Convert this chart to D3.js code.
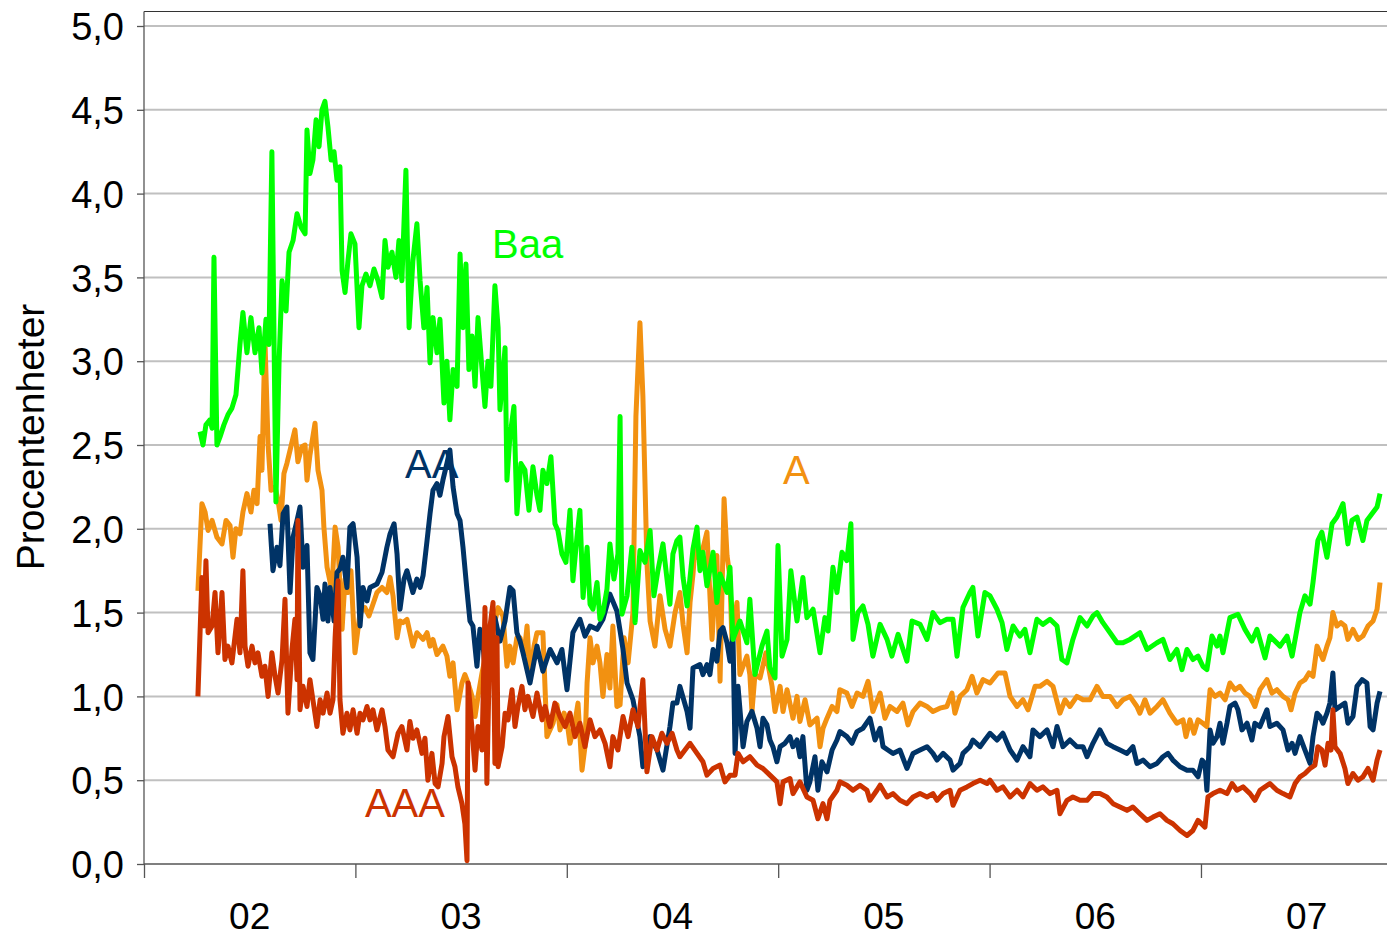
<html>
<head>
<title>Kreditspreadar</title>
<script src="https://cdn.jsdelivr.net/npm/d3@7"></script>
<style>
  body { margin: 0; background: #ffffff; }
  text { font-family: "Liberation Sans", Arial, sans-serif; }
</style>
</head>
<body>
<div id="chart"></div>

<script type="text/javascript">

// data: time as decimal year, value in procentenheter
var baa = [
  [2002.265,2.58],[2002.279,2.50],[2002.293,2.62],[2002.312,2.65],[2002.322,2.60],[2002.331,3.62],[2002.345,2.50],[2002.360,2.55],
  [2002.378,2.62],[2002.397,2.68],[2002.416,2.72],[2002.435,2.80],[2002.454,3.10],[2002.468,3.29],[2002.487,3.05],[2002.506,3.26],
  [2002.525,3.05],[2002.544,3.20],[2002.558,2.93],[2002.577,3.25],[2002.591,3.10],[2002.605,4.25],[2002.624,2.16],[2002.639,3.00],
  [2002.653,3.48],[2002.672,3.30],[2002.686,3.65],[2002.705,3.72],[2002.724,3.88],[2002.743,3.80],[2002.762,3.76],[2002.771,4.38],
  [2002.785,4.12],[2002.799,4.20],[2002.814,4.44],[2002.828,4.28],[2002.842,4.50],[2002.856,4.55],[2002.870,4.40],[2002.885,4.20],
  [2002.899,4.25],[2002.913,4.08],[2002.927,4.16],[2002.937,3.54],[2002.951,3.41],[2002.965,3.60],[2002.979,3.76],[2002.998,3.70],
  [2003.017,3.20],[2003.031,3.45],[2003.050,3.52],[2003.069,3.45],[2003.088,3.55],[2003.107,3.48],[2003.126,3.38],[2003.140,3.72],
  [2003.154,3.56],[2003.173,3.65],[2003.192,3.50],[2003.206,3.72],[2003.220,3.48],[2003.239,4.14],[2003.254,3.20],[2003.272,3.60],
  [2003.291,3.82],[2003.306,3.48],[2003.324,3.20],[2003.339,3.44],[2003.353,2.99],[2003.367,3.26],[2003.386,3.05],[2003.400,3.25],
  [2003.419,2.75],[2003.433,3.00],[2003.447,2.65],[2003.462,2.95],[2003.481,2.85],[2003.495,3.64],[2003.509,3.20],[2003.523,3.58],
  [2003.537,2.95],[2003.552,3.15],[2003.566,2.85],[2003.580,3.26],[2003.599,2.95],[2003.613,2.73],[2003.627,3.00],[2003.641,2.85],
  [2003.660,3.45],[2003.675,3.20],[2003.684,2.71],[2003.708,3.08],[2003.717,2.29],[2003.731,2.55],[2003.750,2.73],[2003.764,2.09],
  [2003.783,2.39],[2003.802,2.35],[2003.821,2.11],[2003.840,2.37],[2003.859,2.20],[2003.873,2.11],[2003.887,2.35],[2003.906,2.27],
  [2003.925,2.43],[2003.944,2.03],[2003.958,1.99],[2003.977,1.85],[2003.996,1.80],[2004.015,2.11],[2004.029,1.69],[2004.048,1.95],
  [2004.062,2.11],[2004.077,1.59],[2004.096,1.89],[2004.110,1.55],[2004.124,1.52],[2004.143,1.68],[2004.157,1.46],[2004.171,1.50],
  [2004.190,1.64],[2004.204,1.91],[2004.223,1.70],[2004.242,1.85],[2004.252,2.67],[2004.261,1.49],[2004.285,1.60],[2004.308,1.89],
  [2004.323,1.44],[2004.346,1.87],[2004.370,1.80],[2004.394,1.99],[2004.412,1.60],[2004.431,1.75],[2004.455,1.91],[2004.474,1.70],
  [2004.488,1.55],[2004.502,1.85],[2004.521,1.93],[2004.535,1.95],[2004.550,1.71],[2004.569,1.54],[2004.597,1.88],[2004.616,2.01],
  [2004.630,1.75],[2004.644,1.86],[2004.663,1.66],[2004.692,1.86],[2004.710,1.56],[2004.725,1.73],[2004.758,1.62],[2004.772,1.77],
  [2004.786,1.34],[2004.819,1.45],[2004.852,1.32],[2004.866,1.58],[2004.890,1.13],[2004.923,1.30],[2004.947,1.39],[2004.961,1.17],
  [2004.985,1.11],[2004.999,1.90],[2005.018,1.24],[2005.042,1.34],[2005.060,1.75],[2005.089,1.45],[2005.117,1.71],[2005.136,1.47],
  [2005.165,1.52],[2005.198,1.26],[2005.221,1.47],[2005.236,1.39],[2005.259,1.77],[2005.278,1.62],[2005.302,1.86],[2005.325,1.81],
  [2005.344,2.03],[2005.354,1.34],[2005.377,1.50],[2005.401,1.54],[2005.425,1.43],[2005.448,1.24],[2005.482,1.43],[2005.515,1.34],
  [2005.538,1.24],[2005.567,1.37],[2005.609,1.21],[2005.633,1.45],[2005.671,1.43],[2005.704,1.34],[2005.732,1.50],[2005.765,1.44],
  [2005.798,1.46],[2005.827,1.46],[2005.846,1.24],[2005.874,1.53],[2005.907,1.62],[2005.921,1.65],[2005.945,1.36],[2005.978,1.62],
  [2006.002,1.60],[2006.035,1.52],[2006.059,1.44],[2006.082,1.28],[2006.111,1.42],[2006.144,1.36],[2006.167,1.40],[2006.191,1.26],
  [2006.224,1.46],[2006.252,1.43],[2006.286,1.46],[2006.319,1.42],[2006.342,1.22],[2006.366,1.20],[2006.394,1.34],[2006.428,1.47],
  [2006.461,1.42],[2006.489,1.48],[2006.508,1.50],[2006.536,1.44],[2006.570,1.38],[2006.603,1.32],[2006.631,1.32],[2006.664,1.34],
  [2006.711,1.38],[2006.745,1.28],[2006.792,1.32],[2006.820,1.34],[2006.853,1.22],[2006.886,1.28],[2006.910,1.16],[2006.934,1.28],
  [2006.962,1.22],[2006.986,1.24],[2007.009,1.18],[2007.028,1.16],[2007.052,1.36],[2007.076,1.30],[2007.090,1.36],[2007.104,1.26],
  [2007.137,1.47],[2007.175,1.49],[2007.208,1.40],[2007.241,1.33],[2007.265,1.40],[2007.303,1.23],[2007.326,1.36],[2007.374,1.30],
  [2007.407,1.36],[2007.431,1.24],[2007.454,1.40],[2007.468,1.50],[2007.492,1.60],[2007.516,1.55],[2007.530,1.68],[2007.553,1.93],
  [2007.572,1.98],[2007.596,1.83],[2007.620,2.03],[2007.643,2.07],[2007.672,2.15],[2007.695,1.91],[2007.714,2.05],[2007.738,2.07],
  [2007.766,1.93],[2007.785,2.05],[2007.809,2.09],[2007.833,2.13],[2007.847,2.21]
];

var a = [
  [2002.255,1.63],[2002.274,2.15],[2002.289,2.10],[2002.303,1.99],[2002.322,2.05],[2002.345,1.95],[2002.369,1.91],[2002.388,2.05],
  [2002.407,2.02],[2002.421,1.83],[2002.435,2.00],[2002.454,1.97],[2002.468,2.10],[2002.487,2.21],[2002.506,2.10],[2002.520,2.23],
  [2002.535,2.15],[2002.549,2.55],[2002.558,2.35],[2002.572,3.13],[2002.587,2.50],[2002.601,2.23],[2002.620,2.25],[2002.634,2.17],
  [2002.648,2.05],[2002.662,2.33],[2002.676,2.39],[2002.695,2.49],[2002.714,2.59],[2002.728,2.40],[2002.747,2.49],[2002.762,2.50],
  [2002.771,2.29],[2002.785,2.44],[2002.809,2.63],[2002.823,2.35],[2002.842,2.23],[2002.851,2.01],[2002.866,1.77],[2002.889,1.63],
  [2002.904,2.01],[2002.918,1.89],[2002.937,1.40],[2002.951,1.70],[2002.965,1.62],[2002.979,1.75],[2002.998,1.26],[2003.022,1.50],
  [2003.045,1.53],[2003.064,1.48],[2003.083,1.55],[2003.102,1.62],[2003.126,1.65],[2003.149,1.62],[2003.164,1.71],[2003.178,1.60],
  [2003.197,1.35],[2003.211,1.45],[2003.225,1.44],[2003.244,1.46],[2003.272,1.30],[2003.291,1.38],[2003.320,1.34],[2003.339,1.38],
  [2003.353,1.30],[2003.367,1.34],[2003.386,1.25],[2003.414,1.30],[2003.433,1.24],[2003.447,1.12],[2003.462,1.20],[2003.481,0.92],
  [2003.504,1.08],[2003.518,1.13],[2003.533,1.08],[2003.552,1.00],[2003.566,0.88],[2003.580,1.00],[2003.599,1.14],[2003.622,1.28],
  [2003.637,1.35],[2003.651,1.40],[2003.675,1.53],[2003.698,1.48],[2003.717,1.18],[2003.731,1.30],[2003.746,1.20],[2003.764,1.35],
  [2003.779,1.35],[2003.798,1.25],[2003.812,1.42],[2003.826,1.12],[2003.845,1.30],[2003.859,1.38],[2003.887,1.38],[2003.906,0.76],
  [2003.935,0.84],[2003.954,0.95],[2003.968,0.80],[2003.987,0.90],[2004.001,0.85],[2004.015,0.72],[2004.039,0.85],[2004.053,0.96],
  [2004.072,0.56],[2004.086,0.70],[2004.096,1.08],[2004.110,1.35],[2004.124,1.20],[2004.143,1.30],[2004.157,1.20],[2004.171,1.00],
  [2004.190,1.25],[2004.204,1.05],[2004.218,1.42],[2004.237,0.94],[2004.252,0.95],[2004.271,1.35],[2004.290,1.20],[2004.313,1.50],
  [2004.327,2.67],[2004.346,3.23],[2004.360,2.79],[2004.379,1.80],[2004.394,1.45],[2004.417,1.30],[2004.441,1.60],[2004.465,1.40],
  [2004.488,1.30],[2004.512,1.50],[2004.535,1.62],[2004.550,1.43],[2004.569,1.26],[2004.583,1.56],[2004.597,1.73],[2004.606,1.88],
  [2004.630,1.81],[2004.663,1.98],[2004.687,1.34],[2004.710,1.84],[2004.725,1.09],[2004.744,2.18],[2004.758,1.84],[2004.772,1.71],
  [2004.781,1.34],[2004.805,1.56],[2004.819,1.13],[2004.852,1.24],[2004.866,1.13],[2004.876,0.91],[2004.890,1.13],[2004.914,1.11],
  [2004.942,1.26],[2004.971,1.06],[2004.985,0.91],[2005.009,1.06],[2005.023,0.91],[2005.042,1.04],[2005.070,0.87],[2005.089,1.00],
  [2005.103,0.85],[2005.127,0.98],[2005.150,0.83],[2005.184,0.87],[2005.198,0.70],[2005.212,0.81],[2005.231,0.87],[2005.255,0.94],
  [2005.278,0.91],[2005.292,1.04],[2005.325,1.02],[2005.349,0.94],[2005.373,1.02],[2005.401,1.00],[2005.425,1.09],[2005.448,0.91],
  [2005.482,1.02],[2005.505,0.87],[2005.529,0.94],[2005.562,0.91],[2005.590,0.96],[2005.614,0.83],[2005.638,0.91],[2005.671,0.96],
  [2005.704,0.94],[2005.732,0.91],[2005.765,0.93],[2005.798,0.94],[2005.822,1.02],[2005.836,0.90],[2005.860,1.00],[2005.893,1.04],
  [2005.917,1.12],[2005.940,1.02],[2005.969,1.10],[2006.002,1.08],[2006.040,1.14],[2006.073,1.14],[2006.097,1.00],[2006.130,0.94],
  [2006.158,0.98],[2006.182,0.92],[2006.215,1.06],[2006.238,1.06],[2006.272,1.09],[2006.300,1.06],[2006.333,0.90],[2006.357,0.98],
  [2006.380,0.94],[2006.413,1.00],[2006.442,0.98],[2006.475,0.98],[2006.508,1.06],[2006.536,1.00],[2006.570,1.00],[2006.603,0.94],
  [2006.631,0.98],[2006.664,1.00],[2006.697,0.94],[2006.711,0.90],[2006.735,0.98],[2006.759,0.90],[2006.792,0.94],[2006.820,0.98],
  [2006.853,0.90],[2006.886,0.84],[2006.915,0.86],[2006.929,0.76],[2006.948,0.86],[2006.967,0.78],[2006.986,0.86],[2007.009,0.84],
  [2007.028,0.82],[2007.043,1.04],[2007.066,1.00],[2007.090,1.02],[2007.114,0.98],[2007.137,1.08],[2007.161,1.04],[2007.184,1.06],
  [2007.208,1.02],[2007.232,1.00],[2007.255,0.94],[2007.279,1.04],[2007.312,1.10],[2007.336,1.02],[2007.359,1.04],[2007.388,1.00],
  [2007.412,0.98],[2007.426,0.92],[2007.445,1.02],[2007.468,1.08],[2007.492,1.10],[2007.511,1.14],[2007.530,1.12],[2007.549,1.30],
  [2007.563,1.26],[2007.577,1.22],[2007.596,1.30],[2007.610,1.35],[2007.624,1.50],[2007.643,1.42],[2007.662,1.44],[2007.681,1.42],
  [2007.695,1.34],[2007.719,1.40],[2007.743,1.34],[2007.766,1.36],[2007.790,1.42],[2007.814,1.45],[2007.833,1.52],[2007.847,1.68]
];

var aa = [
  [2002.596,2.03],[2002.610,1.75],[2002.629,1.89],[2002.643,1.78],[2002.658,2.09],[2002.676,2.13],[2002.691,1.62],[2002.705,1.95],
  [2002.724,2.05],[2002.738,2.13],[2002.752,1.77],[2002.771,1.90],[2002.785,1.26],[2002.799,1.22],[2002.818,1.65],[2002.833,1.60],
  [2002.847,1.46],[2002.856,1.67],[2002.870,1.45],[2002.880,1.65],[2002.899,1.45],[2002.913,1.74],[2002.927,1.76],[2002.941,1.83],
  [2002.960,1.65],[2002.974,2.01],[2002.989,2.03],[2003.008,1.83],[2003.022,1.42],[2003.036,1.65],[2003.055,1.57],[2003.069,1.65],
  [2003.102,1.67],[2003.126,1.74],[2003.149,1.89],[2003.164,1.97],[2003.183,2.03],[2003.197,1.85],[2003.211,1.52],[2003.230,1.70],
  [2003.244,1.75],[2003.272,1.62],[2003.291,1.70],[2003.306,1.65],[2003.320,1.72],[2003.339,1.93],[2003.353,2.09],[2003.367,2.23],
  [2003.386,2.27],[2003.400,2.20],[2003.414,2.29],[2003.433,2.39],[2003.447,2.47],[2003.462,2.25],[2003.481,2.09],[2003.495,2.05],
  [2003.509,1.89],[2003.528,1.63],[2003.542,1.45],[2003.556,1.42],[2003.575,1.18],[2003.589,1.40],[2003.604,1.30],[2003.622,1.04],
  [2003.637,1.35],[2003.660,1.47],[2003.684,1.33],[2003.708,1.45],[2003.731,1.65],[2003.746,1.63],[2003.764,1.38],[2003.779,1.33],
  [2003.793,1.26],[2003.826,1.08],[2003.859,1.30],[2003.887,1.15],[2003.921,1.28],[2003.954,1.20],[2003.977,1.28],[2004.001,1.04],
  [2004.029,1.38],[2004.062,1.46],[2004.086,1.36],[2004.110,1.42],[2004.143,1.40],[2004.171,1.46],[2004.204,1.61],[2004.237,1.51],
  [2004.266,1.28],[2004.285,1.08],[2004.313,0.98],[2004.346,0.76],[2004.360,0.58],[2004.394,0.76],[2004.427,0.68],[2004.455,0.56],
  [2004.488,0.82],[2004.502,0.96],[2004.521,0.96],[2004.535,1.06],[2004.569,0.91],[2004.583,0.81],[2004.597,1.17],[2004.630,1.19],
  [2004.644,1.13],[2004.663,1.19],[2004.677,1.13],[2004.692,1.28],[2004.710,1.21],[2004.725,1.39],[2004.739,1.41],[2004.758,1.32],
  [2004.772,1.21],[2004.786,1.37],[2004.796,0.66],[2004.810,1.06],[2004.834,0.70],[2004.852,0.85],[2004.876,0.91],[2004.900,0.81],
  [2004.914,0.70],[2004.928,0.87],[2004.947,0.83],[2004.961,0.74],[2004.975,0.70],[2004.994,0.61],[2005.009,0.70],[2005.032,0.72],
  [2005.056,0.76],[2005.070,0.70],[2005.089,0.74],[2005.103,0.64],[2005.117,0.76],[2005.136,0.44],[2005.150,0.49],[2005.174,0.64],
  [2005.188,0.44],[2005.207,0.61],[2005.231,0.55],[2005.255,0.68],[2005.278,0.74],[2005.292,0.79],[2005.325,0.76],[2005.349,0.72],
  [2005.373,0.79],[2005.401,0.81],[2005.434,0.87],[2005.458,0.74],[2005.482,0.81],[2005.496,0.70],[2005.519,0.68],[2005.543,0.66],
  [2005.576,0.68],[2005.609,0.57],[2005.638,0.66],[2005.671,0.68],[2005.704,0.70],[2005.732,0.66],[2005.751,0.62],[2005.780,0.66],
  [2005.813,0.62],[2005.827,0.56],[2005.860,0.60],[2005.874,0.66],[2005.907,0.70],[2005.921,0.74],[2005.955,0.70],[2005.978,0.74],
  [2006.002,0.78],[2006.035,0.74],[2006.063,0.78],[2006.097,0.68],[2006.130,0.62],[2006.158,0.70],[2006.191,0.64],[2006.205,0.80],
  [2006.238,0.76],[2006.272,0.80],[2006.300,0.70],[2006.319,0.82],[2006.347,0.70],[2006.380,0.74],[2006.413,0.70],[2006.442,0.70],
  [2006.461,0.64],[2006.489,0.72],[2006.522,0.80],[2006.555,0.72],[2006.584,0.70],[2006.617,0.68],[2006.650,0.66],[2006.678,0.70],
  [2006.697,0.60],[2006.726,0.62],[2006.759,0.58],[2006.792,0.60],[2006.820,0.64],[2006.844,0.66],[2006.867,0.62],[2006.901,0.58],
  [2006.934,0.56],[2006.962,0.56],[2006.986,0.52],[2007.005,0.62],[2007.019,0.60],[2007.028,0.44],[2007.043,0.80],[2007.057,0.72],
  [2007.076,0.76],[2007.090,0.84],[2007.104,0.72],[2007.123,0.84],[2007.137,0.94],[2007.161,0.96],[2007.175,0.92],[2007.194,0.80],
  [2007.218,0.84],[2007.241,0.74],[2007.255,0.84],[2007.279,0.82],[2007.312,0.92],[2007.326,0.82],[2007.359,0.84],[2007.388,0.80],
  [2007.412,0.68],[2007.431,0.72],[2007.445,0.66],[2007.468,0.76],[2007.492,0.68],[2007.516,0.60],[2007.530,0.76],[2007.549,0.90],
  [2007.563,0.88],[2007.577,0.84],[2007.596,0.90],[2007.610,0.96],[2007.624,1.14],[2007.634,0.92],[2007.658,0.94],[2007.681,0.96],
  [2007.695,0.84],[2007.719,0.88],[2007.738,1.06],[2007.762,1.10],[2007.785,1.08],[2007.800,0.82],[2007.814,0.80],[2007.833,0.96],
  [2007.847,1.03]
];

var aaa = [
  [2002.255,1.00],[2002.274,1.71],[2002.284,1.42],[2002.293,1.81],[2002.303,1.38],[2002.322,1.42],[2002.336,1.62],[2002.350,1.26],
  [2002.369,1.62],[2002.383,1.22],[2002.397,1.30],[2002.416,1.20],[2002.440,1.46],[2002.454,1.26],[2002.468,1.75],[2002.478,1.30],
  [2002.492,1.18],[2002.511,1.30],[2002.525,1.20],[2002.539,1.26],[2002.558,1.12],[2002.572,1.18],[2002.587,1.00],[2002.605,1.26],
  [2002.620,1.12],[2002.634,1.02],[2002.653,1.22],[2002.667,1.58],[2002.681,0.90],[2002.700,1.28],[2002.714,1.46],[2002.724,1.10],
  [2002.728,2.05],[2002.738,0.92],[2002.752,1.06],[2002.771,0.94],[2002.785,1.10],[2002.799,0.98],[2002.818,0.82],[2002.833,0.98],
  [2002.847,0.90],[2002.866,1.02],[2002.880,0.90],[2002.894,0.98],[2002.904,1.35],[2002.918,1.69],[2002.927,0.98],[2002.941,0.78],
  [2002.960,0.90],[2002.974,0.80],[2002.989,0.92],[2003.008,0.78],[2003.022,0.90],[2003.036,0.86],[2003.055,0.94],[2003.069,0.86],
  [2003.083,0.92],[2003.102,0.80],[2003.126,0.92],[2003.140,0.82],[2003.154,0.68],[2003.178,0.64],[2003.202,0.78],[2003.220,0.82],
  [2003.244,0.68],[2003.258,0.85],[2003.272,0.75],[2003.291,0.80],[2003.315,0.66],[2003.329,0.75],[2003.343,0.50],[2003.362,0.66],
  [2003.377,0.48],[2003.391,0.46],[2003.410,0.60],[2003.419,0.76],[2003.438,0.88],[2003.457,0.64],[2003.471,0.58],[2003.485,0.46],
  [2003.504,0.36],[2003.518,0.24],[2003.528,0.02],[2003.533,1.08],[2003.552,0.80],[2003.566,0.56],[2003.580,0.82],[2003.599,0.68],
  [2003.613,1.53],[2003.622,0.48],[2003.637,1.42],[2003.651,1.56],[2003.660,0.60],[2003.670,1.35],[2003.675,0.58],[2003.694,0.70],
  [2003.708,0.90],[2003.722,0.86],[2003.741,1.04],[2003.755,0.82],[2003.769,0.94],[2003.788,1.06],[2003.802,0.92],[2003.816,1.00],
  [2003.840,0.88],[2003.859,1.02],[2003.883,0.86],[2003.897,0.94],[2003.921,0.82],[2003.944,0.96],[2003.968,0.88],[2003.992,0.82],
  [2004.015,0.90],[2004.039,0.76],[2004.062,0.84],[2004.086,0.70],[2004.110,0.86],[2004.133,0.76],[2004.157,0.80],[2004.181,0.72],
  [2004.204,0.58],[2004.218,0.76],[2004.242,0.68],[2004.266,0.88],[2004.290,0.76],[2004.313,0.92],[2004.337,0.82],[2004.360,1.10],
  [2004.379,0.55],[2004.403,0.76],[2004.427,0.68],[2004.450,0.78],[2004.474,0.72],[2004.498,0.78],[2004.521,0.68],[2004.535,0.64],
  [2004.583,0.72],[2004.616,0.66],[2004.644,0.61],[2004.663,0.53],[2004.692,0.57],[2004.725,0.59],[2004.748,0.49],[2004.772,0.53],
  [2004.796,0.53],[2004.810,0.66],[2004.834,0.61],[2004.866,0.64],[2004.900,0.59],[2004.928,0.57],[2004.961,0.53],[2004.994,0.49],
  [2005.009,0.36],[2005.023,0.49],[2005.056,0.51],[2005.070,0.42],[2005.103,0.49],[2005.136,0.40],[2005.165,0.38],[2005.188,0.27],
  [2005.212,0.36],[2005.231,0.27],[2005.245,0.38],[2005.278,0.44],[2005.292,0.49],[2005.325,0.47],[2005.354,0.44],[2005.387,0.47],
  [2005.420,0.44],[2005.434,0.38],[2005.467,0.44],[2005.482,0.47],[2005.515,0.40],[2005.543,0.42],[2005.576,0.38],[2005.609,0.36],
  [2005.638,0.40],[2005.671,0.42],[2005.704,0.40],[2005.732,0.42],[2005.751,0.38],[2005.780,0.42],[2005.813,0.44],[2005.827,0.35],
  [2005.860,0.44],[2005.893,0.46],[2005.921,0.48],[2005.955,0.50],[2005.988,0.48],[2006.002,0.50],[2006.035,0.44],[2006.063,0.46],
  [2006.097,0.40],[2006.130,0.44],[2006.158,0.40],[2006.191,0.48],[2006.224,0.44],[2006.252,0.46],[2006.286,0.42],[2006.319,0.44],
  [2006.333,0.30],[2006.366,0.38],[2006.394,0.40],[2006.428,0.38],[2006.461,0.38],[2006.489,0.42],[2006.522,0.42],[2006.555,0.40],
  [2006.584,0.36],[2006.617,0.34],[2006.650,0.32],[2006.678,0.34],[2006.711,0.30],[2006.745,0.26],[2006.773,0.28],[2006.806,0.30],
  [2006.839,0.26],[2006.867,0.24],[2006.901,0.20],[2006.934,0.17],[2006.962,0.20],[2006.986,0.26],[2007.019,0.22],[2007.033,0.40],
  [2007.057,0.42],[2007.090,0.44],[2007.123,0.42],[2007.147,0.48],[2007.170,0.44],[2007.199,0.46],[2007.232,0.42],[2007.255,0.38],
  [2007.279,0.44],[2007.303,0.46],[2007.326,0.48],[2007.359,0.44],[2007.388,0.42],[2007.421,0.40],[2007.445,0.48],[2007.468,0.52],
  [2007.492,0.54],[2007.516,0.57],[2007.539,0.59],[2007.553,0.70],[2007.572,0.68],[2007.587,0.59],[2007.601,0.72],[2007.615,0.68],
  [2007.624,0.92],[2007.634,0.70],[2007.658,0.66],[2007.681,0.57],[2007.695,0.48],[2007.719,0.54],[2007.743,0.50],[2007.766,0.52],
  [2007.790,0.57],[2007.814,0.50],[2007.833,0.62],[2007.847,0.68]
];

var yTicks = [0, 0.5, 1, 1.5, 2, 2.5, 3, 3.5, 4, 4.5, 5];
var yearTicks = [2002, 2003, 2004, 2005, 2006, 2007];
var yearLabels = ["02", "03", "04", "05", "06", "07"];
var seriesNames = ["A", "AA", "AAA", "Baa"];
var seriesColors = ["#f29111", "#003366", "#cc3300", "#00ff00"];

// dimensions
var width = 1387,
    height = 937;

var svg = d3.select("#chart")
    .append("svg")
    .attr("width", width)
    .attr("height", height);

var x = d3.scaleLinear()
    .domain([2002, 2007.88])
    .range([144, 1387]);

var y = d3.scaleLinear()
    .domain([0, 5])
    .range([864, 26]);

var comma = d3.formatLocale({decimal: ",", thousands: " ", grouping: [3], currency: ["", " kr"]}).format(".1f");

// gridlines
svg.append("g")
    .selectAll("line")
    .data(yTicks.filter(function(d) { return d > 0; }))
    .enter()
    .append("line")
    .attr("x1", x(2002))
    .attr("x2", width)
    .attr("y1", function(d) { return y(d); })
    .attr("y2", function(d) { return y(d); })
    .attr("stroke", "#c0c0c0")
    .attr("stroke-width", 2);

// top frame
svg.append("line")
    .attr("x1", x(2002)).attr("x2", width)
    .attr("y1", 11.5).attr("y2", 11.5)
    .attr("stroke", "#333").attr("stroke-width", 1);

// Y axis
var yAxis = svg.append("g")
    .attr("transform", "translate(" + x(2002) + ",0)")
    .call(d3.axisLeft(y).tickValues(yTicks).tickSize(7).tickPadding(13).tickFormat(comma));
yAxis.select(".domain").attr("d", "M0,11.5V" + y(0)).attr("stroke", "#555").attr("stroke-width", 1.3);
yAxis.selectAll(".tick line").attr("stroke", "#555").attr("stroke-width", 1.3);
yAxis.selectAll(".tick text")
    .attr("fill", "#000")
    .style("font-family", "'Liberation Sans', Arial, sans-serif")
    .style("font-size", "38px")
    .attr("dy", "0.36em");

// X axis
var xAxis = svg.append("g")
    .attr("transform", "translate(0," + y(0) + ")")
    .call(d3.axisBottom(x).tickValues(yearTicks).tickSize(14).tickFormat(""));
xAxis.select(".domain").attr("d", "M" + x(2002) + ",0H" + width).attr("stroke", "#555").attr("stroke-width", 1.3);
xAxis.selectAll(".tick line").attr("stroke", "#555").attr("stroke-width", 1.3);

svg.append("g")
    .selectAll("text")
    .data(yearTicks)
    .enter()
    .append("text")
    .attr("x", function(d) { return x(d + 0.5); })
    .attr("y", 929)
    .attr("text-anchor", "middle")
    .style("font-size", "37px")
    .attr("fill", "#000")
    .text(function(d, i) { return yearLabels[i]; });

// Y axis title
svg.append("text")
    .attr("transform", "translate(44," + 437 + ") rotate(-90)")
    .attr("text-anchor", "middle")
    .style("font-size", "39px")
    .attr("fill", "#000")
    .text("Procentenheter");

// lines
var line = d3.line()
    .x(function(d) { return x(d[0]); })
    .y(function(d) { return y(d[1]); });

var allSeries = [a, aa, aaa, baa];

svg.append("g")
    .selectAll("path")
    .data(allSeries)
    .enter()
    .append("path")
    .attr("fill", "none")
    .attr("stroke", function(d, i) { return seriesColors[i]; })
    .attr("stroke-width", 5)
    .attr("stroke-linejoin", "round")
    .attr("d", line);

// series labels, placed at data coordinates
var labels = [
  {name: "Baa", t: 2003.646, v: 3.616, color: seriesColors[3]},
  {name: "AA", t: 2003.235, v: 2.303, color: seriesColors[1]},
  {name: "A", t: 2005.023, v: 2.267, color: seriesColors[0]},
  {name: "AAA", t: 2003.045, v: 0.280, color: seriesColors[2]}
];

svg.append("g")
    .selectAll("text")
    .data(labels)
    .enter()
    .append("text")
    .attr("x", function(d) { return x(d.t); })
    .attr("y", function(d) { return y(d.v); })
    .style("font-size", "40px")
    .attr("fill", function(d) { return d.color; })
    .text(function(d) { return d.name; });

</script>
</body>
</html>
